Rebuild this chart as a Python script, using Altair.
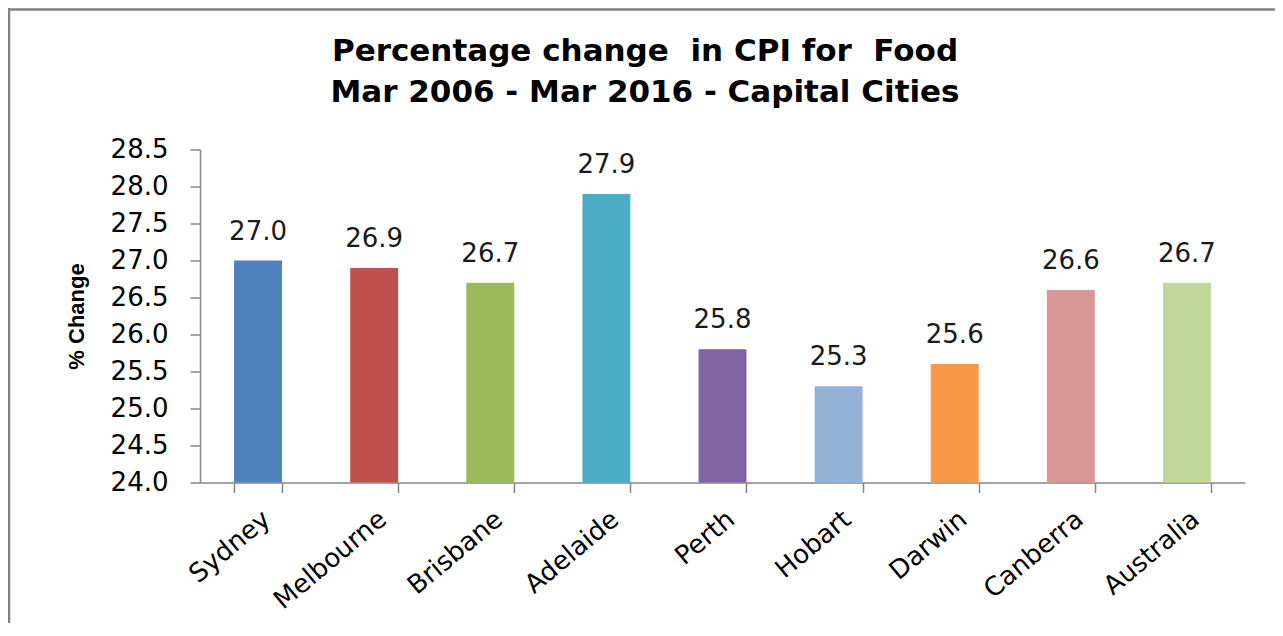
import altair as alt
import pandas as pd

cities = ["Sydney", "Melbourne", "Brisbane", "Adelaide", "Perth", "Hobart", "Darwin", "Canberra", "Australia"]
values = [27.0, 26.9, 26.7, 27.9, 25.8, 25.3, 25.6, 26.6, 26.7]
colors = ["#4F81BD", "#C0504D", "#9BBB59", "#4BACC6", "#8064A2", "#95B3D7", "#F79646", "#D99694", "#C3D69B"]
y_ticks = [24.0, 24.5, 25.0, 25.5, 26.0, 26.5, 27.0, 27.5, 28.0, 28.5]
title_line1 = "Percentage change \u00a0in CPI for \u00a0Food"
title_line2 = "Mar 2006 - Mar 2016 - Capital Cities"

df = pd.DataFrame({"city": cities, "value": values})

W, H = 1045, 333
NUM_FONT = "DejaVu Sans"

x_enc = alt.X(
    "city:N",
    sort=cities,
    title=None,
    scale=alt.Scale(paddingInner=0.587, paddingOuter=0.2935),
    axis=alt.Axis(
        labelAngle=-40,
        labelAlign="right",
        labelBaseline="top",
        labelFont=NUM_FONT,
        labelFontSize=26,
        labelColor="#000000",
        labelPadding=13,
        tickBand="extent",
        tickSize=10,
        tickColor="#868686",
        tickWidth=1.5,
        domainColor="#868686",
        domainWidth=1.5,
        grid=False,
    ),
)

y_enc = alt.Y(
    "value:Q",
    title="% Change",
    scale=alt.Scale(domain=[24.0, 28.5], nice=False, zero=False),
    axis=alt.Axis(
        values=y_ticks,
        format=".1f",
        labelFont=NUM_FONT,
        labelFontSize=26,
        labelColor="#000000",
        labelPadding=22,
        labelOverlap=False,
        labelBound=False,
        labelFlush=False,
        tickSize=10,
        tickColor="#868686",
        tickWidth=1.5,
        domainColor="#868686",
        domainWidth=1.5,
        grid=False,
        titleFont="Liberation Sans",
        titleFontSize=22,
        titleFontWeight="bold",
        titleColor="#000000",
        titlePadding=22,
    ),
)

base = alt.Chart(df).encode(x=x_enc, y=y_enc)

bars = base.mark_bar().encode(
    y2=alt.datum(24.0),
    color=alt.Color("city:N", sort=cities, scale=alt.Scale(domain=cities, range=colors), legend=None),
)

labels = base.mark_text(
    font=NUM_FONT, fontSize=26, color="#1a1a1a", baseline="alphabetic", dy=-21
).encode(
    text=alt.Text("value:Q", format=".1f"),
)

frame_df = pd.DataFrame({"k": [0]})
top_rule = alt.Chart(frame_df).mark_rule(color="#808080", strokeWidth=2.5).encode(
    x=alt.value(-192), x2=alt.value(1090), y=alt.value(-140)
)
left_rule = alt.Chart(frame_df).mark_rule(color="#808080", strokeWidth=2.5).encode(
    x=alt.value(-191), y=alt.value(-141.5), y2=alt.value(500)
)

def title_line(text, ypos):
    return alt.Chart(pd.DataFrame({"line": [text]})).mark_text(
        font="DejaVu Sans", fontSize=31, fontWeight="bold", color="#000000",
        baseline="alphabetic", align="center"
    ).encode(x=alt.value(445), y=alt.value(ypos), text="line:N")

t1 = title_line(title_line1, -88.5)
t2 = title_line(title_line2, -47.5)

chart = alt.layer(bars, labels, t1, t2, top_rule, left_rule).properties(
    width=W,
    height=H,
    autosize=alt.AutoSizeParams(type="none"),
    padding={"left": 192, "top": 141.5, "right": 30, "bottom": 140},
).configure_view(stroke=None)

chart.save("out.html", embed_options={"renderer": "svg", "actions": False})
